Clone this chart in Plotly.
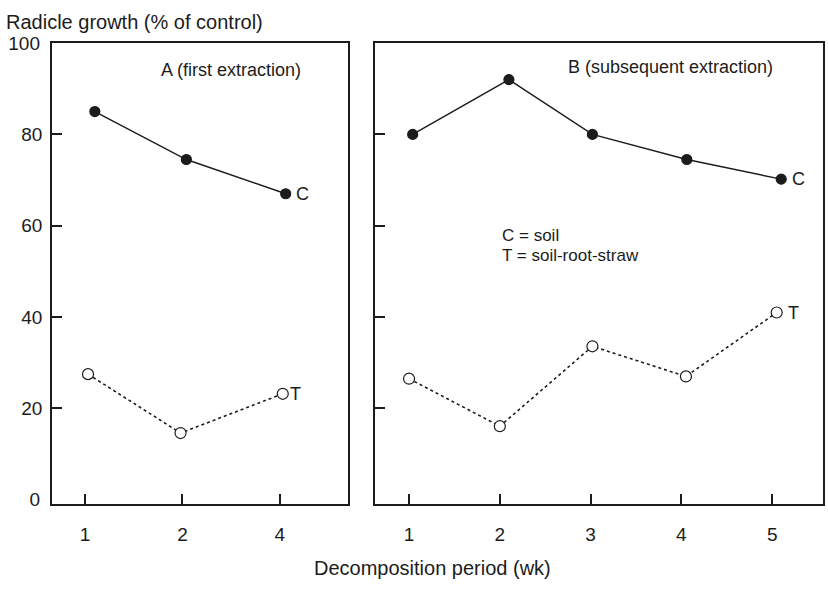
import plotly.graph_objects as go

# Panel A: first extraction (decomposition weeks 1, 2, 4)
weeks_a = ["1", "2", "4"]
pos_a_soil = [1.10, 2.04, 3.06]
soil_a = [85.0, 74.5, 67.0]
pos_a_straw = [1.03, 1.98, 3.03]
straw_a = [27.5, 14.6, 23.2]

# Panel B: subsequent extraction (weeks 1-5)
weeks_b = ["1", "2", "3", "4", "5"]
pos_b_soil = [1.04, 2.10, 3.02, 4.06, 5.10]
soil_b = [80.0, 92.0, 80.0, 74.5, 70.2]
pos_b_straw = [1.00, 2.00, 3.02, 4.05, 5.05]
straw_b = [26.5, 16.1, 33.6, 27.0, 41.0]

inner_ticks = [20, 40, 60, 80]   # drawn as tick marks
edge_ticks = [0, 100]            # labelled only, they sit on the frame

FONT = "Liberation Sans, Arial, sans-serif"
INK = "#1c1c1c"
W, H = 828, 593


def px(x):
    return x / W


def py(y):
    return 1 - y / H


fig = go.Figure()


def add_series(xs, ys, xaxis, yaxis, filled):
    fig.add_trace(go.Scatter(
        x=xs, y=ys, xaxis=xaxis, yaxis=yaxis,
        mode="lines+markers",
        line=dict(color=INK, width=1.4 if filled else 1.6,
                  dash="solid" if filled else "dot"),
        marker=dict(symbol="circle", size=10 if filled else 11,
                    color=INK if filled else "white",
                    line=dict(color=INK, width=1.2)),
        showlegend=False, hoverinfo="skip",
    ))


add_series(pos_a_soil, soil_a, "x", "y", True)
add_series(pos_a_straw, straw_a, "x", "y", False)
add_series(pos_b_soil, soil_b, "x2", "y2", True)
add_series(pos_b_straw, straw_b, "x2", "y2", False)

# invisible helper so the overlay axis carrying the 0 / 100 labels is drawn
fig.add_trace(go.Scatter(
    x=[pos_a_soil[0]] * len(edge_ticks), y=edge_ticks, xaxis="x", yaxis="y3",
    mode="markers", marker=dict(opacity=0), showlegend=False, hoverinfo="skip",
))

axis_common = dict(
    showline=True, mirror=True, linecolor=INK, linewidth=1.8,
    ticks="inside", ticklen=10, tickwidth=1.6, tickcolor=INK,
    showgrid=False, zeroline=False,
    tickfont=dict(family=FONT, size=19, color=INK),
)
y_font = dict(family=FONT, size=19, color=INK)
y_domain = [py(508), py(34)]
y_range = [-1.0, 100.0]

fig.update_layout(
    width=W, height=H,
    margin=dict(l=0, r=0, t=0, b=0),
    paper_bgcolor="white", plot_bgcolor="white",
    xaxis=dict(domain=[px(52), px(348)], range=[0.66, 3.70],
               tickvals=[1, 2, 3], ticktext=weeks_a,
               ticklabelstandoff=12, anchor="y", **axis_common),
    yaxis=dict(domain=y_domain, range=y_range,
               tickvals=inner_ticks, ticklabelstandoff=4,
               anchor="x", **{**axis_common, "tickfont": y_font}),
    # labels for 0 and 100 without tick marks
    yaxis3=dict(domain=y_domain, range=y_range, overlaying="y", anchor="x",
                side="left", tickvals=edge_ticks, ticks="", showline=False,
                showgrid=False, zeroline=False, ticklabelstandoff=11,
                tickfont=y_font),
    xaxis2=dict(domain=[px(375), px(823)], range=[0.625, 5.56],
                tickvals=[1, 2, 3, 4, 5], ticktext=weeks_b,
                ticklabelstandoff=12, anchor="y2", **axis_common),
    yaxis2=dict(domain=y_domain, range=y_range,
                tickvals=inner_ticks, showticklabels=False,
                anchor="x2", **axis_common),
)

text_font = dict(family=FONT, size=18, color=INK)
key_font = dict(family=FONT, size=17, color=INK)

annotations = [
    dict(text="Radicle growth (% of control)", xref="paper", yref="paper",
         x=px(4), y=py(12), xanchor="left", yanchor="middle",
         font=dict(family=FONT, size=20, color=INK)),
    dict(text="Decomposition period (wk)", xref="paper", yref="paper",
         x=px(432), y=py(573), xanchor="center", yanchor="middle",
         font=dict(family=FONT, size=20, color=INK)),
    dict(text="A (first extraction)", xref="paper", yref="paper",
         x=px(231), y=py(62), xanchor="center", yanchor="middle", font=text_font),
    dict(text="B (subsequent extraction)", xref="paper", yref="paper",
         x=px(670), y=py(59), xanchor="center", yanchor="middle", font=text_font),
    dict(text="C = soil", xref="paper", yref="paper",
         x=px(500), y=py(232), xanchor="left", yanchor="middle", font=key_font),
    dict(text="T = soil-root-straw", xref="paper", yref="paper",
         x=px(500), y=py(252.5), xanchor="left", yanchor="middle", font=key_font),
    # series tags next to the last point of each line
    dict(text="C", xref="x", yref="y", x=pos_a_soil[-1], y=soil_a[-1],
         xanchor="left", yanchor="middle", xshift=8, font=text_font),
    dict(text="T", xref="x", yref="y", x=pos_a_straw[-1], y=straw_a[-1],
         xanchor="left", yanchor="middle", xshift=5, font=text_font),
    dict(text="C", xref="x2", yref="y2", x=pos_b_soil[-1], y=soil_b[-1],
         xanchor="left", yanchor="middle", xshift=9, font=text_font),
    dict(text="T", xref="x2", yref="y2", x=pos_b_straw[-1], y=straw_b[-1],
         xanchor="left", yanchor="middle", xshift=9, font=text_font),
]
for a in annotations:
    a["showarrow"] = False
fig.update_layout(annotations=annotations)

fig.write_html("out.html")
